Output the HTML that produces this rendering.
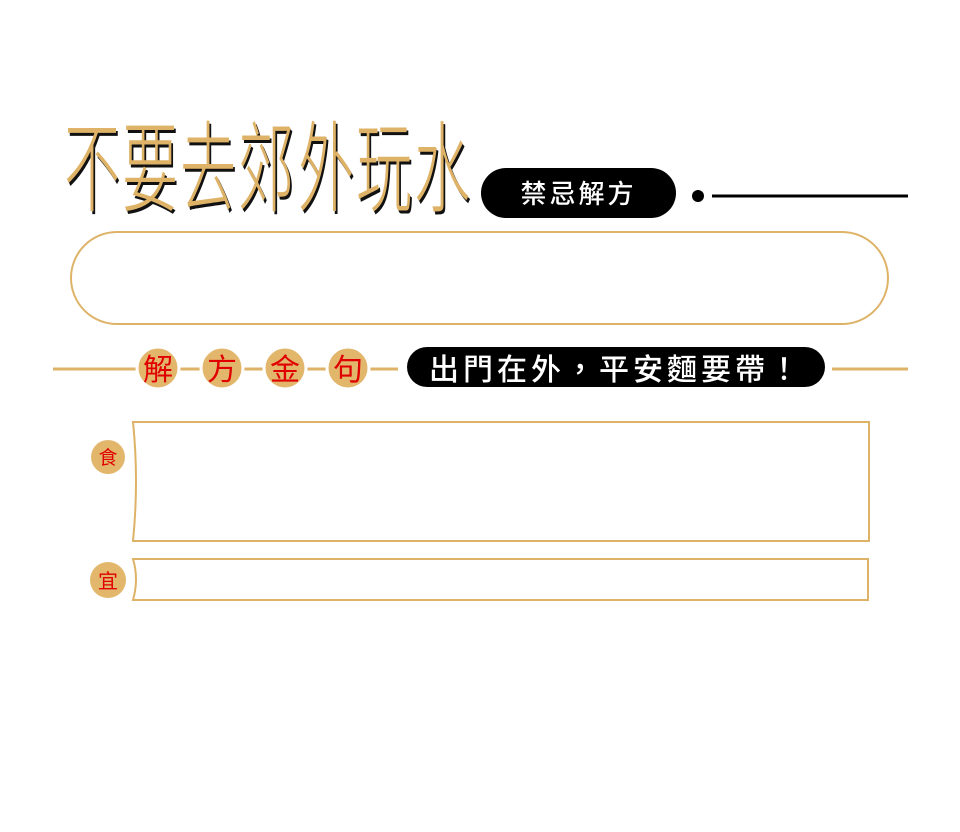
<!DOCTYPE html>
<html><head><meta charset="utf-8"><style>
body{margin:0;width:960px;height:832px;background:#fff;position:relative;overflow:hidden;font-family:"Liberation Sans","Noto Sans CJK TC",sans-serif}
.t{position:absolute;top:112px;font-family:"Noto Sans CJK TC",sans-serif;font-weight:300;font-size:66px;color:#deb368;transform:scale(0.85,1.5);transform-origin:left top;text-shadow:2px 2px 0 #111;line-height:66px}
</style></head><body>
<div>
<span class="t" style="left:64px">不</span><span class="t" style="left:122px">要</span><span class="t" style="left:180px">去</span><span class="t" style="left:238px">郊</span><span class="t" style="left:298px">外</span><span class="t" style="left:356px">玩</span><span class="t" style="left:414px">水</span>
</div>
<div style="position:absolute;left:481px;top:168px;width:195px;height:50px;border-radius:25px;background:#000;color:#fff;font-size:26px;line-height:50px;text-align:center;letter-spacing:3px;font-family:'Noto Sans CJK TC',sans-serif;font-weight:500">禁忌解方</div>
<svg width="960" height="832" style="position:absolute;left:0;top:0" fill="none">
<circle cx="698" cy="196" r="6" fill="#000"/>
<line x1="712" y1="196" x2="908" y2="196" stroke="#000" stroke-width="3"/>
<rect x="71" y="232" width="817" height="92" rx="46" stroke="#deb368" stroke-width="2"/>
<line x1="53" y1="369" x2="398" y2="369" stroke="#deb368" stroke-width="3"/>
<line x1="832" y1="369" x2="908" y2="369" stroke="#deb368" stroke-width="3"/>
<g fill="#e2b76c" stroke="#fff" stroke-width="3">
<circle cx="158" cy="368" r="21"/><circle cx="222" cy="368" r="21"/><circle cx="285" cy="368" r="21"/><circle cx="348" cy="368" r="21"/>
</g>
<path d="M133 422 H869 V541 H133 Q139 481 133 422 Z" stroke="#deb368" stroke-width="2"/>
<path d="M133 559 H868 V600 H133 Q139 579 133 559 Z" stroke="#deb368" stroke-width="2"/>
<circle cx="108" cy="457" r="17" fill="#e2b76c"/>
<circle cx="108" cy="580" r="18" fill="#e2b76c"/>
<g font-family="Noto Sans CJK TC,sans-serif" fill="#e00000" text-anchor="middle">
<text x="158" y="380" font-size="30">解</text><text x="222" y="380" font-size="30">方</text><text x="285" y="380" font-size="30">金</text><text x="348" y="380" font-size="30">句</text>
<text x="108" y="464" font-size="19">食</text><text x="108" y="588" font-size="20">宜</text>
</g>
</svg>
<div style="position:absolute;left:407px;top:347px;width:418px;height:40px;border-radius:20px;background:#000;color:#fff;font-size:30px;line-height:40px;text-align:center;letter-spacing:4px;font-family:'Noto Sans CJK TC',sans-serif;font-weight:500">出門在外，平安麵要帶！</div>
</body></html>
